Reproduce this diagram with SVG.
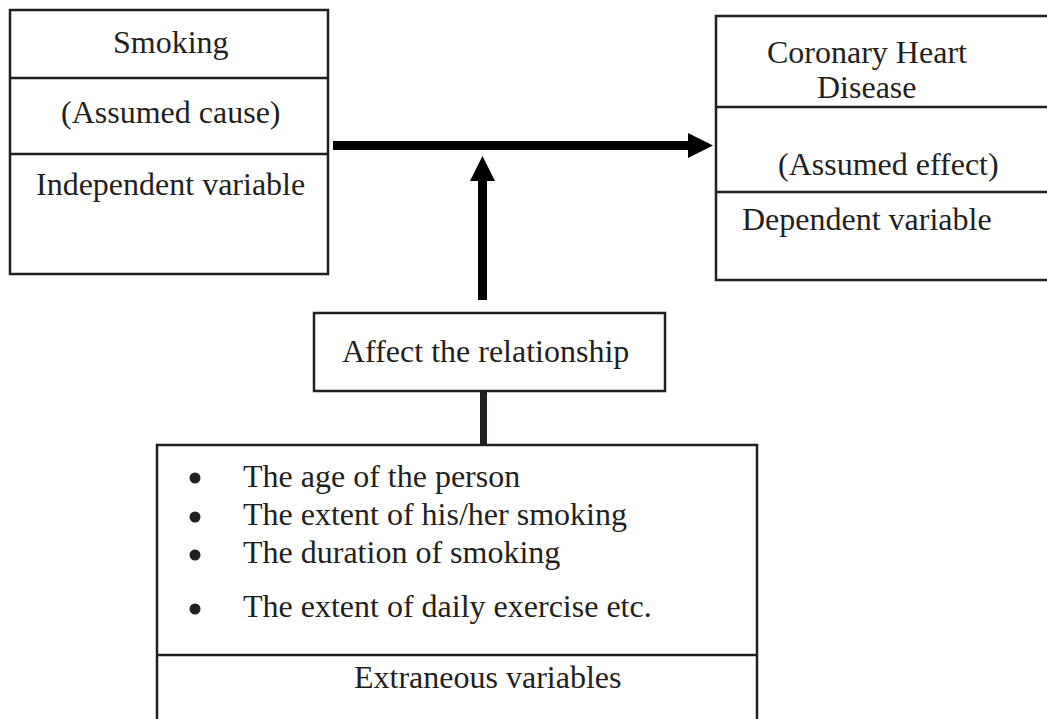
<svg xmlns="http://www.w3.org/2000/svg" width="1047" height="719" viewBox="0 0 1047 719">
<style>
.box{fill:#fff;stroke:#231f20;stroke-width:2.5}
.div{stroke:#231f20;stroke-width:2.5}
text{font-family:"Liberation Serif","Times New Roman",serif;font-size:32px;fill:#231f20}
.bul{fill:#231f20}
</style>
<rect width="1047" height="719" fill="#fff"/>
<g id="connectors">
<rect x="333" y="141" width="357" height="9" fill="#000"/>
<polygon points="688,133 713,145.5 688,158" fill="#000"/>
<rect x="478" y="180" width="9" height="120" fill="#000"/>
<polygon points="470,181 482.5,156 495,181" fill="#000"/>
<rect x="480" y="391" width="7" height="53" fill="#231f20"/>
</g>
<g id="smoking">
<rect class="box" x="10" y="10" width="318" height="264"/>
<line class="div" x1="10" y1="78" x2="328" y2="78"/>
<line class="div" x1="10" y1="154" x2="328" y2="154"/>
<text x="113" y="53">Smoking</text>
<text x="61" y="123">(Assumed cause)</text>
<text x="36" y="195">Independent variable</text>
</g>
<g id="chd">
<rect class="box" x="716" y="16" width="350" height="264"/>
<line class="div" x1="716" y1="107" x2="1066" y2="107"/>
<line class="div" x1="716" y1="192" x2="1066" y2="192"/>
<text x="767" y="63">Coronary Heart</text>
<text x="817" y="98">Disease</text>
<text x="778" y="175">(Assumed effect)</text>
<text x="742" y="230">Dependent variable</text>
</g>
<g id="affect">
<rect class="box" x="314" y="313" width="351" height="78"/>
<text x="342" y="362">Affect the relationship</text>
</g>
<g id="extraneous">
<rect class="box" x="157" y="445" width="600" height="300"/>
<line class="div" x1="157" y1="655" x2="757" y2="655"/>
<circle class="bul" cx="195" cy="478" r="5.5"/>
<circle class="bul" cx="195" cy="517" r="5.5"/>
<circle class="bul" cx="195" cy="555" r="5.5"/>
<circle class="bul" cx="195" cy="609" r="5.5"/>
<text x="243" y="487">The age of the person</text>
<text x="243" y="525">The extent of his/her smoking</text>
<text x="243" y="563">The duration of smoking</text>
<text x="243" y="617">The extent of daily exercise etc.</text>
<text x="354" y="688">Extraneous variables</text>
</g>
</svg>
